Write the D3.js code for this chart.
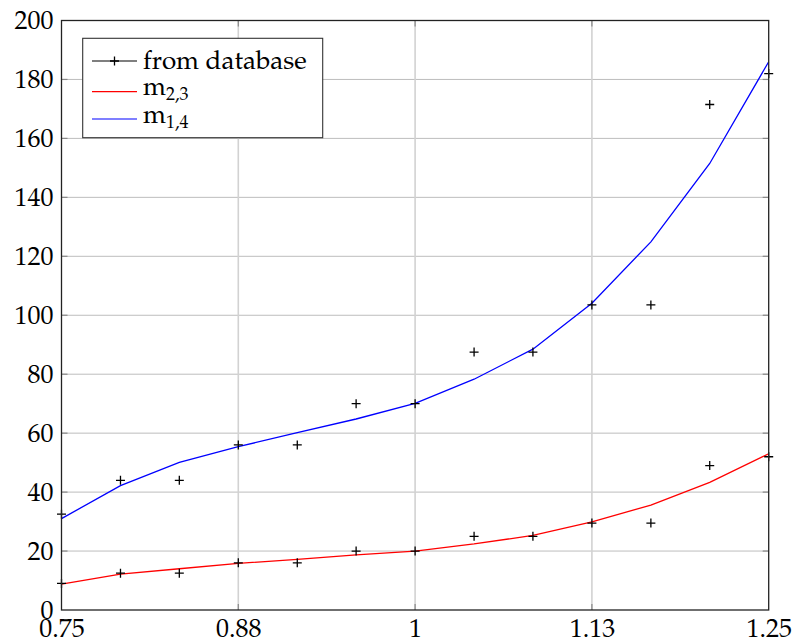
<!DOCTYPE html>
<html>
<head>
<meta charset="utf-8">
<script src="https://cdn.jsdelivr.net/npm/d3@7"></script>
<style>
  html, body { margin: 0; padding: 0; background: #fff; }
  svg { display: block; }
</style>
</head>
<body>
<svg id="chart" width="795" height="643"></svg>
<script>
// Sample positions (x = 0.75 + i/24)
const xValues = [0.75, 0.7917, 0.8333, 0.875, 0.9167, 0.9583, 1.0, 1.0417, 1.0833, 1.125, 1.1667, 1.2083, 1.25];

// Measured values, upper and lower groups
const dbUpper = [32.5, 44, 44, 56, 56, 70, 70, 87.5, 87.5, 103.5, 103.5, 171.5, 182];
const dbLower = [9, 12.5, 12.5, 16, 16, 20, 20, 25, 25, 29.5, 29.5, 49, 52];

// Model curves
const m23 = [8.8, 12.2, 14.0, 15.8, 17.2, 18.7, 20.0, 22.4, 25.3, 29.9, 35.6, 43.3, 53.0];
const m14 = [31.0, 42.2, 50.1, 55.4, 60.2, 64.8, 70.1, 78.3, 88.5, 104.1, 124.9, 151.5, 186.0];

const xTicks = [0.75, 0.875, 1.0, 1.125, 1.25];
const xTickLabels = ["0.75", "0.88", "1", "1.13", "1.25"];
const yTicks = [0, 20, 40, 60, 80, 100, 120, 140, 160, 180, 200];

const FONT = "'TeX Gyre Pagella', 'Liberation Serif', serif";
const FS = 26;

const svg = d3.select("#chart");
const pL = 61.5, pR = 768.7, pT = 20.5, pB = 610;

const x = d3.scaleLinear().domain([0.75, 1.25]).range([pL, pR]);
const y = d3.scaleLinear().domain([0, 200]).range([pB, pT]);

// Grid
const grid = svg.append("g");
grid.selectAll("line.hg").data(yTicks.slice(1, -1)).enter().append("line")
  .attr("x1", pL).attr("x2", pR)
  .attr("y1", d => y(d)).attr("y2", d => y(d))
  .attr("stroke", "#bdbdbd").attr("stroke-width", 1);
grid.selectAll("line.vg").data(xTicks.slice(1, -1)).enter().append("line")
  .attr("x1", d => x(d)).attr("x2", d => x(d))
  .attr("y1", pT).attr("y2", pB)
  .attr("stroke", "#d2d2d2").attr("stroke-width", 1.6);

// Inward tick marks on all four sides
const tk = 6;
const ticks = svg.append("g").attr("stroke", "#888").attr("stroke-width", 1.2);
xTicks.slice(1, -1).forEach(v => {
  ticks.append("line").attr("x1", x(v)).attr("x2", x(v)).attr("y1", pB).attr("y2", pB - tk);
  ticks.append("line").attr("x1", x(v)).attr("x2", x(v)).attr("y1", pT).attr("y2", pT + tk);
});
yTicks.slice(1, -1).forEach(v => {
  ticks.append("line").attr("x1", pL).attr("x2", pL + tk).attr("y1", y(v)).attr("y2", y(v));
  ticks.append("line").attr("x1", pR).attr("x2", pR - tk).attr("y1", y(v)).attr("y2", y(v));
});

// Tick labels via d3 axes (lines hidden, only text kept)
const xAxis = svg.append("g").attr("transform", `translate(0,${pB})`)
  .attr("font-family", FONT).attr("font-size", FS)
  .call(d3.axisBottom(x).tickValues(xTicks).tickSize(0).tickPadding(0)
    .tickFormat((d, i) => xTickLabels[i]));
xAxis.attr("font-family", FONT).attr("font-size", FS);
xAxis.select(".domain").remove();
xAxis.selectAll("text").attr("dy", null).attr("y", 27)
  .attr("font-family", FONT).style("font-family", FONT).attr("font-size", FS).attr("fill", "#000");

const yAxis = svg.append("g").attr("transform", `translate(${pL},0)`)
  .call(d3.axisLeft(y).tickValues(yTicks).tickSize(0).tickPadding(8));
yAxis.attr("font-family", FONT).attr("font-size", FS);
yAxis.select(".domain").remove();
yAxis.selectAll("text").attr("dy", "0.32em")
  .attr("font-family", FONT).style("font-family", FONT).attr("font-size", FS).attr("fill", "#000");

// Curves
const line = d3.line().x((d, i) => x(xValues[i])).y(d => y(d));
svg.append("path").datum(m23).attr("d", line)
  .attr("fill", "none").attr("stroke", "#ff0000").attr("stroke-width", 1.3);
svg.append("path").datum(m14).attr("d", line)
  .attr("fill", "none").attr("stroke", "#0000ff").attr("stroke-width", 1.3);

// Cross markers
const ms = 4.5;
function plus(g, cx, cy) {
  g.append("path").attr("d", `M${cx - ms},${cy}H${cx + ms}M${cx},${cy - ms}V${cy + ms}`)
    .attr("stroke", "#000").attr("stroke-width", 1.3).attr("fill", "none");
}
const marks = svg.append("g");
dbUpper.forEach((v, i) => plus(marks, x(xValues[i]), y(v)));
dbLower.forEach((v, i) => plus(marks, x(xValues[i]), y(v)));

// Frame
svg.append("rect").attr("x", pL).attr("y", pT)
  .attr("width", pR - pL).attr("height", pB - pT)
  .attr("fill", "none").attr("stroke", "#222").attr("stroke-width", 1.3);

// Legend
const lg = svg.append("g");
lg.append("rect").attr("x", 82.7).attr("y", 38.3).attr("width", 240).attr("height", 99.4)
  .attr("fill", "#fff").attr("stroke", "#333").attr("stroke-width", 1.1);
const rows = [
  { y: 61, color: "#000", mark: true },
  { y: 91.7, color: "#ff0000", mark: false },
  { y: 119, color: "#0000ff", mark: false }
];
rows.forEach(r => {
  lg.append("line").attr("x1", 92).attr("x2", 137).attr("y1", r.y).attr("y2", r.y)
    .attr("stroke", r.color).attr("stroke-width", 1.2);
  if (r.mark) plus(lg, 114.5, r.y);
});
function legendText(yPos) {
  return lg.append("text").attr("x", 143).attr("y", yPos)
    .attr("font-family", FONT).style("font-family", FONT).attr("font-size", FS).attr("fill", "#000");
}
legendText(69).text("from database");
const t2 = legendText(95);
t2.append("tspan").text("m");
t2.append("tspan").attr("font-size", 18).attr("dy", 5).text("2,3");
const t3 = legendText(123);
t3.append("tspan").text("m");
t3.append("tspan").attr("font-size", 18).attr("dy", 5).text("1,4");
</script>
</body>
</html>
